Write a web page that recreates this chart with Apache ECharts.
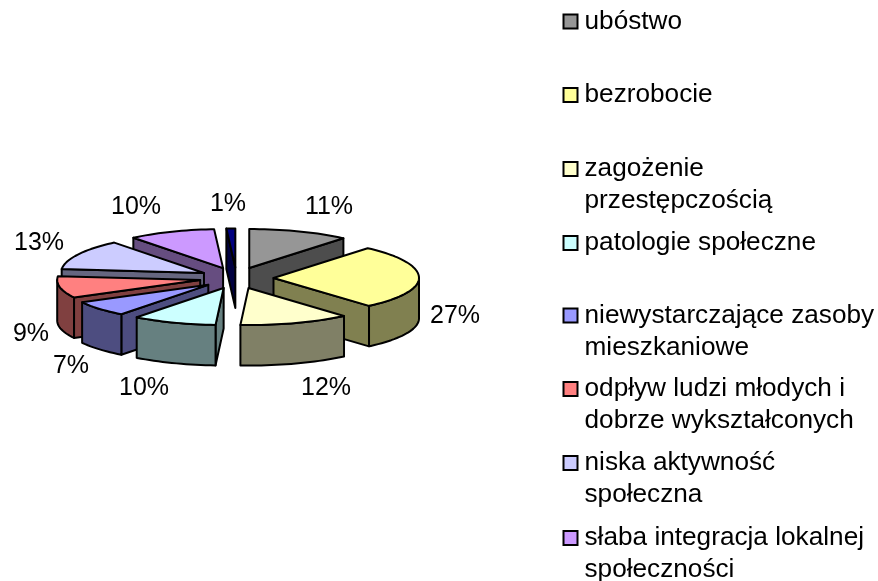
<!DOCTYPE html>
<html>
<head>
<meta charset="utf-8">
<title>pie</title>
<style>
  html, body { margin: 0; padding: 0; background: #fff; }
  #chart { width: 878px; height: 581px; }
</style>
<script src="https://cdn.jsdelivr.net/npm/echarts@6/dist/echarts.min.js"></script>
</head>
<body>
<div id="chart"></div>
<script>
// dane
var categories = [
  'ubóstwo',
  'bezrobocie',
  'zagożenie\nprzestępczością',
  'patologie społeczne',
  'niewystarczające zasoby\nmieszkaniowe',
  'odpływ ludzi młodych i\ndobrze wykształconych',
  'niska aktywność\nspołeczna',
  'słaba integracja lokalnej\nspołeczności',
  'inne'
];
var values = [11.2, 27.4, 12.3, 9.5, 6.8, 9.4, 12.6, 9.8, 1.0];
var topColors = ['#969696', '#FFFF99', '#FFFFCC', '#CCFFFF', '#9999FF', '#FF8080', '#CCCCFF', '#CC99FF', '#000080'];
var wallColors = ['#4D4D4D', '#808050', '#808066', '#668080', '#4D4D80', '#804040', '#666680', '#664D80', '#000040'];

// uklad
var cx = 236.5, cy = 278;   // srodek kola
var rxRight = 145.5, rxLeft = 143;
var ryBack = 39, ryFront = 37;
var depth = 40.5;
var explodeX = 37, explodeY = 10.6;
var labelPos = [[329, 207], [455, 316], [326, 388], [144, 388], [71, 366], [31, 334], [39, 243], [136, 207], [228, 204]];
var legendCenters = [21.5, 95, 169, 243, 315.5, 389, 463, 538];

var total = values.reduce(function (a, b) { return a + b; }, 0);
var starts = [];
values.reduce(function (sum, v, i) { starts[i] = sum / total * 360; return sum + v; }, 0);

function rad(d) { return d * Math.PI / 180; }

function rimPoint(ox, oy, deg) {
  var s = Math.sin(rad(deg)), c = Math.cos(rad(deg));
  return [ox + (s > 0 ? rxRight : rxLeft) * s, oy - (c > 0 ? ryBack : ryFront) * c];
}

function arcPoints(ox, oy, a, b) {
  var pts = [];
  for (var d = a; d < b; d += 2) pts.push(rimPoint(ox, oy, d));
  pts.push(rimPoint(ox, oy, b));
  return pts;
}

function shiftDown(pts) {
  return pts.map(function (p) { return [p[0], p[1] + depth]; }).reverse();
}

function makeRenderItem(i) {
  return function (params, api) {
    var a = starts[i];
    var b = a + api.value(0) / total * 360;
    var mid = (a + b) / 2;
    var ox = cx + explodeX * Math.sin(rad(mid));
    var oy = cy - explodeY * Math.cos(rad(mid));
    var apex = [ox, oy];
    var lineStyle = { stroke: '#000', lineWidth: 2, lineJoin: 'round' };
    var wallStyle = Object.assign({ fill: wallColors[i] }, lineStyle);
    var kids = [];
    function wall(pts) {
      kids.push({ type: 'polygon', shape: { points: pts.concat(shiftDown(pts)) }, style: wallStyle });
    }
    // sciany przekroju widoczne od przodu
    if (Math.sin(rad(a)) < 0) wall([rimPoint(ox, oy, a), apex]);
    if (Math.sin(rad(b)) > 0) wall([apex, rimPoint(ox, oy, b)]);
    // sciana zewnetrzna
    var fa = Math.max(a, 90), fb = Math.min(b, 270);
    if (fa < fb) wall(arcPoints(ox, oy, fa, fb));
    // wierzch
    kids.push({
      type: 'polygon',
      shape: { points: [apex].concat(arcPoints(ox, oy, a, b)) },
      style: Object.assign({ fill: topColors[i] }, lineStyle)
    });
    kids.push({
      type: 'text',
      style: {
        text: Math.round(api.value(0)) + '%',
        x: labelPos[i][0], y: labelPos[i][1],
        align: 'center', verticalAlign: 'middle',
        fill: '#000', font: '25px "Liberation Sans", Arial, sans-serif'
      },
      z2: 10
    });
    return { type: 'group', children: kids };
  };
}

// kolejnosc rysowania: od tylu do przodu
var order = values.map(function (v, i) { return i; }).sort(function (p, q) {
  var mp = starts[p] + values[p] / total * 180, mq = starts[q] + values[q] / total * 180;
  return Math.cos(rad(mq)) - Math.cos(rad(mp));
});

var series = order.map(function (i) {
  return {
    type: 'custom',
    name: categories[i],
    coordinateSystem: 'none',
    silent: true,
    itemStyle: { color: topColors[i] },
    renderItem: makeRenderItem(i),
    data: [[values[i]]]
  };
});

var legends = legendCenters.map(function (c, i) {
  var multi = categories[i].indexOf('\n') >= 0;
  return {
    data: [categories[i]],
    orient: 'vertical',
    left: 562.5,
    top: c - (multi ? 49 : 17),
    padding: 0,
    itemWidth: 14,
    itemHeight: 14,
    selectedMode: false,
    icon: 'rect',
    itemStyle: { borderColor: '#000', borderWidth: 2 },
    textStyle: { color: '#000', fontSize: 26.2, fontFamily: '"Liberation Sans", Arial, sans-serif', lineHeight: 32, padding: [0, 0, 2, 2] },
    formatter: function (name) { return name.indexOf('\n') >= 0 ? '\n' + name : name; }
  };
});

var chart = echarts.init(document.getElementById('chart'), null, { renderer: 'canvas' });
chart.setOption({
  animation: false,
  backgroundColor: '#fff',
  legend: legends,
  series: series
});
</script>
</body>
</html>
